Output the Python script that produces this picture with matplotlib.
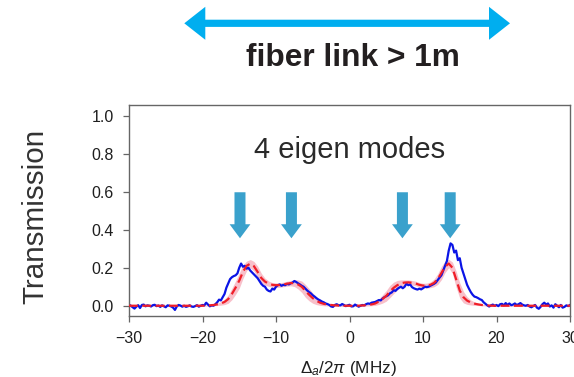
import numpy as np
import matplotlib
matplotlib.use("Agg")
import matplotlib.pyplot as plt
from matplotlib.patches import Polygon
from matplotlib.transforms import ScaledTranslation

plt.rcParams['font.family'] = ['Liberation Sans', 'DejaVu Sans']
plt.rcParams['mathtext.fontset'] = 'custom'
plt.rcParams['mathtext.rm'] = 'Liberation Sans'
plt.rcParams['mathtext.it'] = 'Liberation Sans:italic'

# ---- measured transmission (0.25 MHz steps, -30 ... 30 MHz) ----
detuning_meas = np.linspace(-30, 30, 241)
transmission_meas = [
    0.005, 0.0, -0.008, -0.015,
    -0.005, 0.003, -0.012, 0.004,
    0.006, -0.003, 0.002, 0.0,
    -0.004, 0.003, 0.005, -0.002,
    0.001, -0.006, 0.002, -0.003,
    -0.008, 0.002, 0.0, -0.004,
    -0.01, -0.022, -0.004, 0.004,
    0.001, -0.005, 0.0, -0.006,
    -0.003, 0.002, -0.004, -0.006,
    -0.002, 0.003, -0.005, 0.0,
    0.004, 0.002, 0.016, 0.006,
    -0.003, 0.002, 0.0, 0.008,
    0.018, 0.032, 0.028, 0.045,
    0.062, 0.095, 0.118, 0.14,
    0.15, 0.156, 0.16, 0.17,
    0.2, 0.222, 0.205, 0.21,
    0.195, 0.2, 0.185, 0.175,
    0.165, 0.155, 0.145, 0.13,
    0.115, 0.105, 0.1, 0.085,
    0.078, 0.075, 0.09, 0.085,
    0.1, 0.108, 0.112, 0.105,
    0.11, 0.108, 0.115, 0.112,
    0.118, 0.122, 0.13, 0.125,
    0.118, 0.112, 0.105, 0.1,
    0.09, 0.08, 0.072, 0.065,
    0.055, 0.048, 0.04, 0.033,
    0.028, 0.022, 0.018, 0.012,
    0.009, 0.004, -0.004, -0.006,
    0.004, 0.008, 0.003, 0.002,
    0.009, 0.004, -0.002, 0.002,
    0.005, -0.004, -0.003, 0.006,
    0.001, -0.005, 0.0, 0.004,
    0.002, 0.008, 0.012, 0.01,
    0.016, 0.018, 0.02, 0.025,
    0.03, 0.028, 0.038, 0.045,
    0.05, 0.055, 0.065, 0.07,
    0.082, 0.078, 0.088, 0.095,
    0.1, 0.092, 0.1, 0.116,
    0.108, 0.112, 0.098, 0.092,
    0.088, 0.085, 0.09, 0.086,
    0.092, 0.1, 0.098, 0.1,
    0.105, 0.11, 0.115, 0.122,
    0.135, 0.148, 0.16, 0.185,
    0.21, 0.235, 0.29, 0.328,
    0.32, 0.28, 0.29, 0.24,
    0.25, 0.2, 0.17, 0.14,
    0.11, 0.09, 0.072, 0.058,
    0.048, 0.045, 0.04, 0.034,
    0.03, 0.018, 0.01, 0.002,
    -0.004, 0.002, 0.006, 0.0,
    0.004, -0.002, 0.008, 0.01,
    0.002, 0.014, 0.004, 0.012,
    0.003, 0.006, 0.012, 0.004,
    0.008, 0.014, 0.006, 0.002,
    0.0, 0.004, -0.004, -0.008,
    -0.002, 0.004, -0.01, -0.016,
    -0.006, 0.008, 0.016, 0.006,
    0.012, -0.004, 0.002, -0.01,
    0.008, 0.0, -0.008, 0.004,
    -0.01, -0.006, 0.002, -0.002,
    0.004,
]

# ---- theory curve and its uncertainty (0.5 MHz steps) ----
detuning_theory = np.linspace(-30, 30, 121)
transmission_theory = [
    0.0, 0.0, 0.0, 0.0, 0.0, 0.0, 0.0, 0.0, 0.0, 0.0,          # -30 .. -25.5
    0.0, 0.0, 0.0, 0.0, 0.0, 0.0, 0.0, 0.0, 0.0, 0.0,          # -25 .. -20.5
    0.0, 0.001, 0.002,                                         # -20 .. -19
    0.004, 0.007, 0.012, 0.02, 0.035, 0.062, 0.095, 0.132,     # -18.5 .. -15
    0.178, 0.21, 0.221, 0.208, 0.178, 0.146, 0.127, 0.116,     # -14.5 .. -11
    0.11, 0.108, 0.109, 0.112, 0.116, 0.119, 0.119, 0.112,     # -10.5 .. -7
    0.1, 0.078, 0.058, 0.04, 0.026, 0.016, 0.01, 0.006,        # -6.5 .. -3
    0.004, 0.002, 0.001, 0.0, 0.0, 0.0, 0.0, 0.0,              # -2.5 .. 1
    0.001, 0.002, 0.004, 0.007, 0.012, 0.022, 0.036, 0.052,    # 1.5 .. 5
    0.075, 0.094, 0.108, 0.118, 0.122, 0.123, 0.121, 0.117,    # 5.5 .. 9
    0.11, 0.106, 0.106, 0.11, 0.12, 0.14, 0.172, 0.205,        # 9.5 .. 13
    0.222, 0.2, 0.14, 0.08, 0.045, 0.027, 0.017, 0.011,        # 13.5 .. 17
    0.007, 0.004, 0.002, 0.001,                                # 17.5 .. 19
    0.0, 0.0, 0.0, 0.0, 0.0, 0.0, 0.0, 0.0, 0.0, 0.0, 0.0,     # 19.5 .. 24.5
    0.0, 0.0, 0.0, 0.0, 0.0, 0.0, 0.0, 0.0, 0.0, 0.0, 0.0,     # 25 .. 30
]
theory_spread = [
    0.003, 0.003, 0.003, 0.003, 0.003, 0.003, 0.003, 0.003, 0.003, 0.003,
    0.003, 0.003, 0.003, 0.003, 0.003, 0.003, 0.003, 0.003, 0.003, 0.003,
    0.003, 0.003, 0.003,
    0.004, 0.006, 0.009, 0.014, 0.022, 0.03, 0.035, 0.04,
    0.035, 0.025, 0.022, 0.025, 0.03, 0.025, 0.018, 0.014,
    0.012, 0.012, 0.012, 0.012, 0.013, 0.014, 0.018, 0.024,
    0.03, 0.034, 0.032, 0.027, 0.02, 0.014, 0.01, 0.007,
    0.005, 0.004, 0.004, 0.004, 0.004, 0.004, 0.004, 0.004,
    0.004, 0.004, 0.005, 0.007, 0.01, 0.015, 0.022, 0.028,
    0.032, 0.03, 0.025, 0.018, 0.014, 0.013, 0.012, 0.012,
    0.012, 0.012, 0.013, 0.015, 0.02, 0.028, 0.035, 0.03,
    0.022, 0.03, 0.042, 0.04, 0.03, 0.02, 0.013, 0.009,
    0.006, 0.004, 0.003, 0.003,
    0.003, 0.003, 0.003, 0.003, 0.003, 0.003, 0.003, 0.003, 0.003, 0.003, 0.003,
    0.003, 0.003, 0.003, 0.003, 0.003, 0.003, 0.003, 0.003, 0.003, 0.003, 0.003,
]

# detunings of the four eigenmodes (MHz)
eigen_modes = [-14.9, -7.9, 7.2, 13.7]

x_ticks = [-30, -20, -10, 0, 10, 20, 30]
y_ticks = [0.0, 0.2, 0.4, 0.6, 0.8, 1.0]

theory = np.array(transmission_theory)
spread = np.array(theory_spread)

fig = plt.figure(figsize=(5.74, 3.77), dpi=100)
ax = fig.add_axes([129 / 574, 1 - 316 / 377, 441 / 574, 211 / 377])

ax.fill_between(detuning_theory, theory - spread, theory + spread,
                color='#F8C0CA', linewidth=0, zorder=1)
ax.plot(detuning_meas, transmission_meas, color='#0A14E6', lw=1.6, zorder=2)
ax.plot(detuning_theory, theory, color='#F01E28', lw=1.6, dashes=(4, 2), zorder=3)

ax.set_xlim(-30, 30)
ax.set_ylim(-0.054, 1.056)
ax.set_xticks(x_ticks)
ax.set_yticks(y_ticks)
ax.set_yticklabels([f'{v:.1f}' for v in y_ticks])
for s in ax.spines.values():
    s.set_color('#666666')
    s.set_linewidth(1.0)
ax.tick_params(direction='out', length=4, width=0.9, color='#666666',
               labelsize=11.5, labelcolor='#1e1e1e', pad=7)

# arrows marking the eigenmodes, drawn in inches around the tip
arrow_shape = [(0, 0), (-0.104, 0.14), (-0.055, 0.14), (-0.055, 0.46),
               (0.055, 0.46), (0.055, 0.14), (0.104, 0.14)]
for xm in eigen_modes:
    tr = fig.dpi_scale_trans + ScaledTranslation(xm, 0.355, ax.transData)
    ax.add_patch(Polygon(arrow_shape, closed=True, transform=tr,
                         facecolor='#3AA1CC', edgecolor='none', zorder=4,
                         clip_on=False))

ax.text(0.501, 1 - (157.5 - 105) / 211, '4 eigen modes', transform=ax.transAxes,
        ha='center', va='baseline', fontsize=21, color='#2a2a2a')

# double-headed arrow for the fiber link
yl, x0, x1 = 3.537, 1.843, 5.10
hl, hh, sh = 0.21, 0.165, 0.036
link_shape = [(x0, yl), (x0 + hl, yl + hh), (x0 + hl, yl + sh), (x1 - hl, yl + sh),
              (x1 - hl, yl + hh), (x1, yl), (x1 - hl, yl - hh), (x1 - hl, yl - sh),
              (x0 + hl, yl - sh), (x0 + hl, yl - hh)]
fig.patches.append(Polygon(link_shape, closed=True, transform=fig.dpi_scale_trans,
                           facecolor='#00AEEF', edgecolor='none'))
fig.text(353 / 574, 1 - 66 / 377, 'fiber link > 1m', ha='center', va='baseline',
         fontsize=22.8, fontweight='bold', color='#231f20')

fig.text(35 / 574, 1 - 216 / 377, 'Transmission', rotation=90, ha='center',
         va='center', fontsize=21.3, color='#333333')
fig.text(348 / 574, 1 - 373 / 377, r'$\Delta_a/2\pi$ (MHz)', ha='center',
         va='baseline', fontsize=12.3, color='#1e1e1e')

fig.savefig('out.png', dpi=100)
